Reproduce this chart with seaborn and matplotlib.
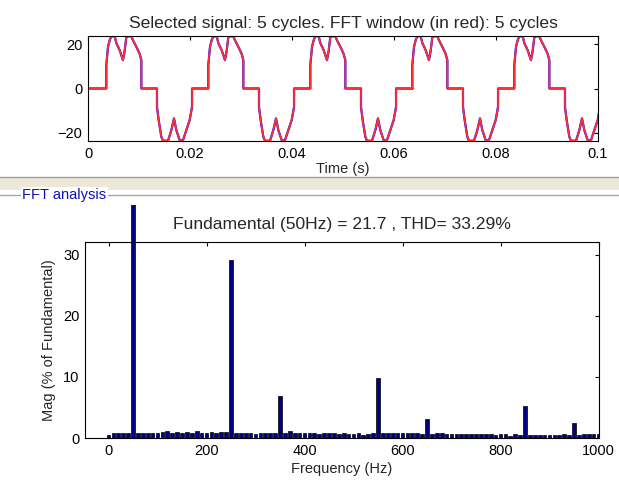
import numpy as np
import pandas as pd
import seaborn as sns
import matplotlib.pyplot as plt
from matplotlib.patches import Rectangle
from matplotlib.lines import Line2D
from matplotlib.transforms import Bbox, TransformedBbox

sns.set_style("white")
plt.rcParams["font.family"] = ["Liberation Sans", "DejaVu Sans"]
plt.rcParams["font.size"] = 10.5

# --- time signal: one cycle (starts at the positive rise) ---
period = 0.02
n_cycles = 5
lead_t = [0.0, 0.00359]
lead_v = [0.0, 0.0]
cycle_t = [0.00359, 0.00359, 0.00392, 0.00425, 0.00458, 0.00523, 0.00556, 0.00621,
           0.00686, 0.00719, 0.00752, 0.00785, 0.00850, 0.00882, 0.00948, 0.01010,
           0.01046, 0.01046, 0.01353, 0.01353, 0.01386, 0.01438, 0.01470, 0.01569,
           0.01634, 0.01686, 0.01732, 0.01797, 0.01863, 0.01928, 0.01993, 0.02040,
           0.02040, 0.02359]
cycle_v = [0.0, 10.5, 18.8, 21.8, 23.6, 23.6, 20.5, 17.3,
           12.8, 17.0, 23.3, 23.6, 23.6, 21.8, 18.8, 15.8,
           12.8, 0.0, 0.0, -8.3, -14.3, -21.8, -23.6, -23.6,
           -18.8, -13.5, -18.8, -23.3, -23.3, -18.8, -14.3, -8.3,
           0.0, 0.0]

# --- FFT bars: 0..1000 Hz every 10 Hz, % of fundamental ---
freqs = list(range(0, 1001, 10))
mags = [0.5, 0.8, 0.9, 0.9, 0.9, 100.0, 0.9, 0.9, 0.9, 0.8,
        0.9, 1.0, 1.2, 0.9, 1.0, 0.9, 1.0, 0.8, 1.1, 0.9,
        0.8, 1.0, 0.8, 1.0, 1.0, 29.2, 0.9, 0.8, 0.8, 0.8,
        0.7, 0.9, 0.8, 0.8, 0.9, 6.9, 0.8, 1.1, 0.9, 0.8,
        0.9, 0.8, 0.9, 0.7, 0.9, 0.8, 0.9, 0.7, 0.8, 0.7,
        0.6, 0.8, 0.5, 0.7, 0.8, 9.8, 0.8, 0.8, 0.8, 0.8,
        0.8, 0.8, 0.8, 0.8, 0.7, 3.1, 0.7, 0.8, 0.8, 0.7,
        0.7, 0.6, 0.7, 0.6, 0.7, 0.7, 0.6, 0.7, 0.6, 0.5,
        0.7, 0.6, 0.4, 0.6, 0.5, 5.2, 0.5, 0.5, 0.5, 0.5,
        0.5, 0.5, 0.5, 0.6, 0.5, 2.4, 0.5, 0.6, 0.6, 0.6,
        0.6]

t_all = list(lead_t)
v_all = list(lead_v)
for k in range(n_cycles):
    t_all += [t + k * period for t in cycle_t]
    v_all += cycle_v
sig = pd.DataFrame({"t": t_all, "v": v_all})
fft = pd.DataFrame({"f": freqs, "mag": mags})

W, H = 619, 480
fig = plt.figure(figsize=(W / 100, H / 100), dpi=100)
fig.patch.set_facecolor("white")

def box(l, t, r, b):
    return [l / W, 1 - b / H, (r - l) / W, (b - t) / H]

# top axes: selected signal (blue) with FFT window (red) on top
ax1 = fig.add_axes(box(88, 36, 598, 141))
sns.lineplot(data=sig, x="t", y="v", sort=False, estimator=None, color="#0000FF",
             linewidth=1.6, ax=ax1)
sns.lineplot(data=sig, x="t", y="v", sort=False, estimator=None, color="#FF3030",
             linewidth=1.3, ax=ax1)
ax1.set_xlim(0, 0.1)
ax1.set_ylim(-23.7, 23.7)
ax1.set_xticks([0, 0.02, 0.04, 0.06, 0.08, 0.1])
ax1.set_xticklabels(["0", "0.02", "0.04", "0.06", "0.08", "0.1"])
ax1.set_yticks([-20, 0, 20])
ax1.set_xlabel("Time (s)", labelpad=1)
ax1.set_ylabel("")
ax1.set_title("Selected signal: 5 cycles. FFT window (in red): 5 cycles", pad=6)

# bottom axes: FFT bars
ax2 = fig.add_axes(box(85, 242, 599, 438))
sns.barplot(data=fft, x="f", y="mag", native_scale=True, width=0.75, errorbar=None,
            color="#000080", saturation=1, edgecolor="black", linewidth=0.5, ax=ax2)
ax2.set_xlim(-48, 1001)
ax2.set_ylim(0, 32.1)
ax2.set_xticks([0, 200, 400, 600, 800, 1000])
ax2.set_yticks([0, 10, 20, 30])
ax2.set_xlabel("Frequency (Hz)", labelpad=3)
ax2.set_ylabel("Mag (% of Fundamental)", labelpad=5)
ax2.set_title("Fundamental (50Hz) = 21.7 , THD= 33.29%", pad=9)

# tall fundamental bar runs past the axes, up to the panel border
clip = TransformedBbox(Bbox.from_extents(85 / W, 1 - 438 / H, 599 / W, 1 - 205 / H),
                       fig.transFigure)
for p in ax2.patches:
    p.set_clip_box(clip)

for ax in (ax1, ax2):
    for s in ax.spines.values():
        s.set_visible(True)
        s.set_color("black")
        s.set_linewidth(0.8)
    ax.tick_params(direction="in", length=3, width=0.8, top=True, right=True,
                   labelsize=10.5, colors="black", pad=4)
    ax.set_facecolor("white")

# GUI panel strip and FFT analysis frame
fig.patches.append(Rectangle((0, 1 - 190 / H), 1, 13 / H, transform=fig.transFigure,
                             facecolor="#ECE9D8", edgecolor="none", zorder=1))
fig.lines.append(Line2D([0, 1], [1 - 177 / H] * 2, transform=fig.transFigure,
                        color="#A0A0A0", linewidth=1, zorder=2))
fig.lines.append(Line2D([0, 1], [1 - 195 / H] * 2, transform=fig.transFigure,
                        color="#A8A8A0", linewidth=1, zorder=2))
fig.text(22 / W, 1 - 195 / H, "FFT analysis", color="#1010C0", fontsize=10.5,
         va="center", ha="left", zorder=3,
         bbox=dict(facecolor="white", edgecolor="none", pad=1))

fig.savefig("out.png", dpi=100)
plt.close(fig)
